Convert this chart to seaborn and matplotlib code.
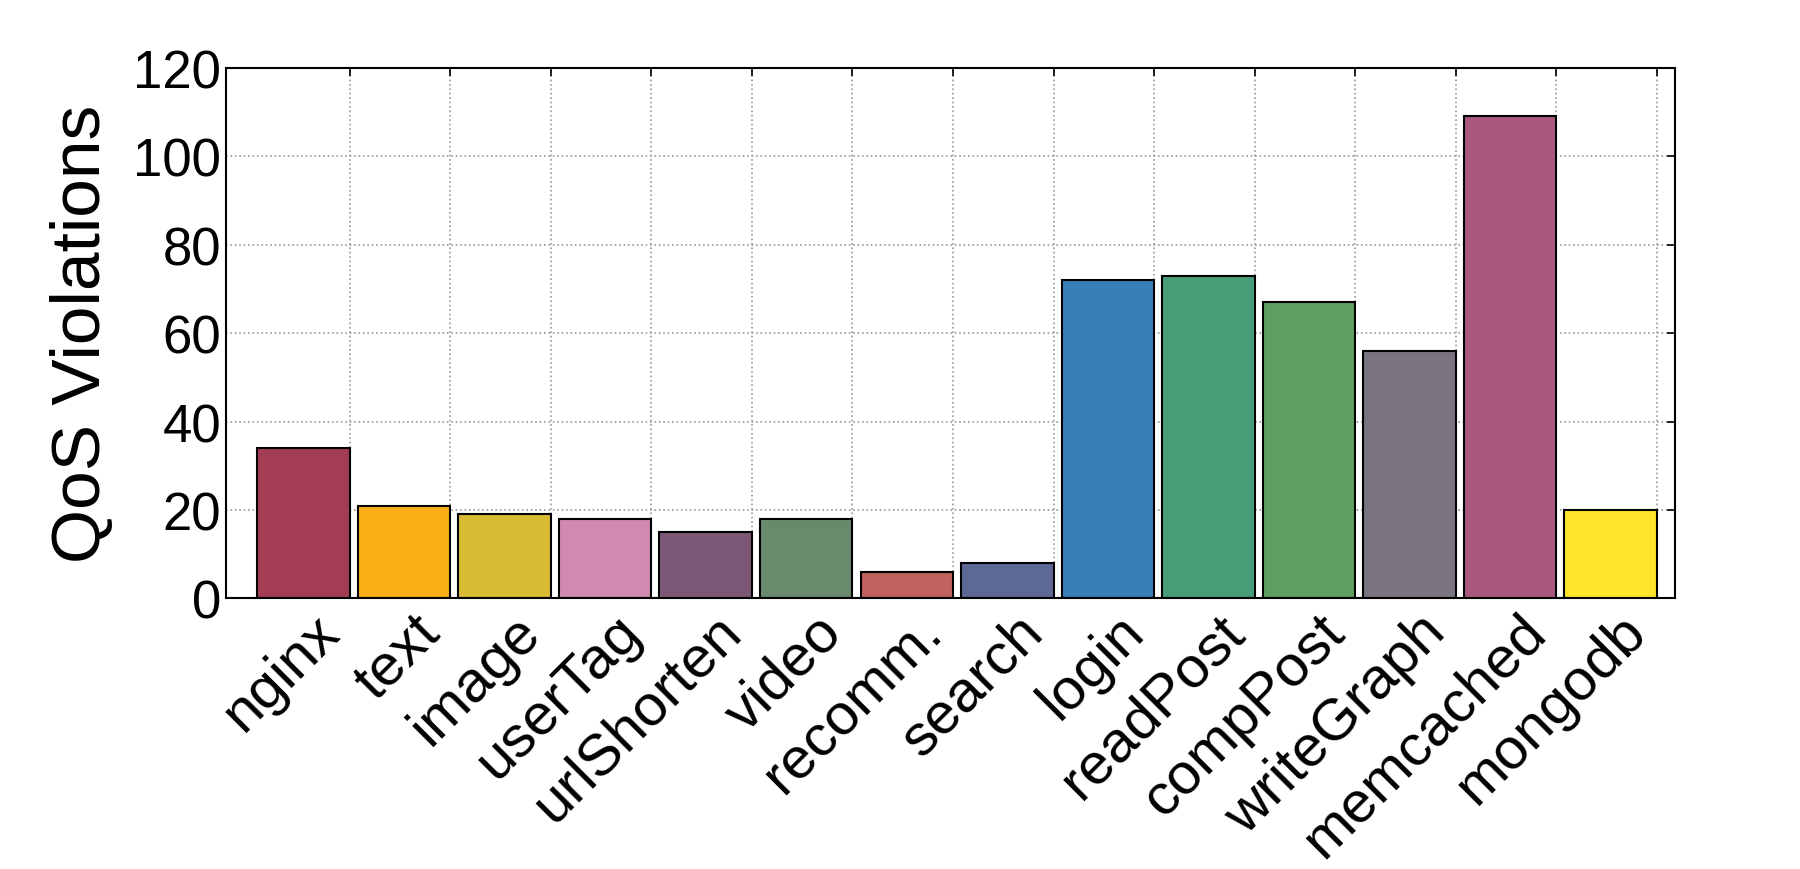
import numpy as np
import matplotlib
matplotlib.use("Agg")
import matplotlib.pyplot as plt
import seaborn as sns

# данные
services = ['nginx', 'text', 'image', 'userTag', 'urlShorten', 'video', 'recomm.',
            'search', 'login', 'readPost', 'compPost', 'writeGraph', 'memcached', 'mongodb']
violations = [34, 21, 19, 18, 15, 18, 6, 8, 72, 73, 67, 56, 109, 20]
colors = ['#A23D55', '#FDB016', '#D9BC33', '#D08AAF', '#7D5776', '#6A8A6D', '#C0625F',
          '#5D6895', '#3A7EB8', '#479D78', '#5E9E5E', '#7A7480', '#AA577F', '#FDE52B']

sns.set_style("white")
plt.rcParams['font.family'] = ['Liberation Sans', 'DejaVu Sans']
plt.rcParams['text.color'] = 'black'
plt.rcParams['axes.labelcolor'] = 'black'
plt.rcParams['xtick.color'] = 'black'
plt.rcParams['ytick.color'] = 'black'

fig, ax = plt.subplots(figsize=(18, 8.7), dpi=100)
fig.subplots_adjust(left=0.1256, right=0.9305, top=0.921, bottom=0.311)

sns.barplot(x=services, y=violations, hue=services, palette=colors, width=0.92,
            saturation=1, edgecolor='black', linewidth=1.5, legend=False, ax=ax)

# тики на правом краю столбцов, как в оригинале
ax.set_xticks(np.arange(len(services)) + 0.46)
ax.set_xticklabels(services, rotation=45, ha='right', fontsize=42)
ax.set_xlim(-0.77, 13.64)
ax.set_ylim(0, 120)
ax.set_yticks(range(0, 121, 20))
ax.tick_params(axis='y', labelsize=38)
ax.tick_params(direction='in', top=True, right=True, length=6, width=1.2)
ax.tick_params(axis='x', pad=4)
ax.set_ylabel('QoS Violations', fontsize=50, labelpad=14)
ax.grid(True, linestyle=':', color='#999999', linewidth=1.2)
ax.set_axisbelow(True)
for s in ax.spines.values():
    s.set_visible(True)
    s.set_color('black')
    s.set_linewidth(1.5)

plt.savefig("out.png", dpi=100)
plt.close()
